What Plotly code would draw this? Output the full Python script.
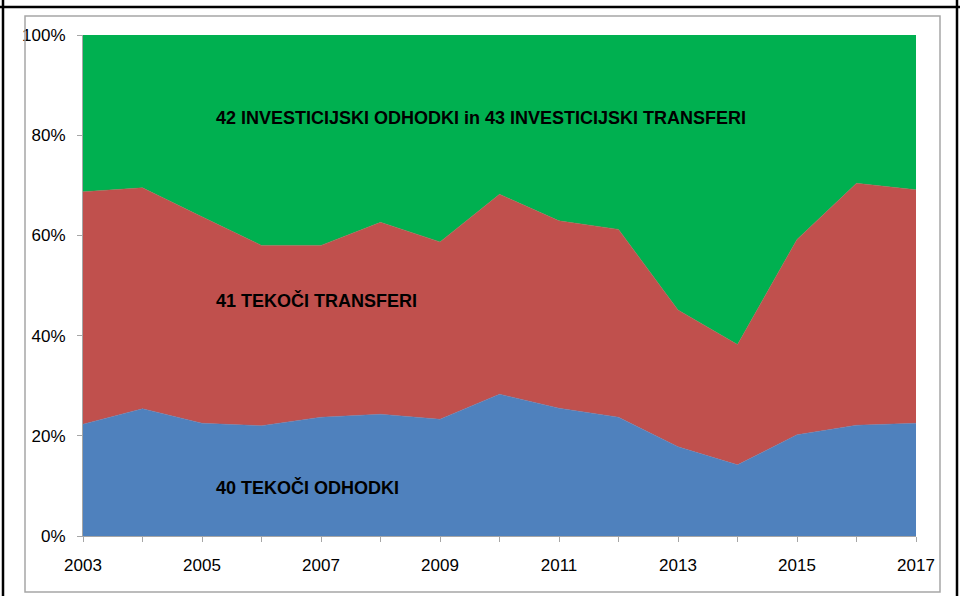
import plotly.graph_objects as go

years = list(range(2003, 2018))
tekoci_odhodki = [22.3, 25.4, 22.5, 22.0, 23.7, 24.3, 23.3, 28.3, 25.5, 23.7, 17.8, 14.2, 20.2, 22.1, 22.5]
tekoci_transferi = [46.4, 44.1, 41.2, 36.0, 34.3, 38.3, 35.4, 39.9, 37.4, 37.5, 27.3, 24.0, 39.0, 48.3, 46.6]
investicije = [round(100 - a - b, 1) for a, b in zip(tekoci_odhodki, tekoci_transferi)]

series_names = ["40 TEKOČI ODHODKI", "41 TEKOČI TRANSFERI",
                "42 INVESTICIJSKI ODHODKI in 43 INVESTICIJSKI TRANSFERI"]
colors = ["#4F81BD", "#C0504D", "#00B050"]
x_ticklabels = [str(y) if (y - 2003) % 2 == 0 else "" for y in years]
y_ticks = [0, 20, 40, 60, 80, 100]
y_ticklabels = ["0%", "20%", "40%", "60%", "80%", "100%"]

FONT = "Liberation Sans, Arial, sans-serif"

fig = go.Figure()
for name, vals, col in zip(series_names, [tekoci_odhodki, tekoci_transferi, investicije], colors):
    fig.add_trace(go.Scatter(x=years, y=vals, name=name, mode="lines",
                             stackgroup="one", line=dict(width=0.5, color=col),
                             fillcolor=col))

W, H = 960, 596
L, R, T, B = 83, 916, 35, 536
pw, ph = R - L, B - T

def px(x):
    return (x - L) / pw

def py(y):
    return (B - y) / ph

label_pos = [(214, 487), (214, 300), (214, 118)]
for name, (lx, ly) in zip(series_names, label_pos):
    fig.add_annotation(x=px(lx), y=py(ly), xref="paper", yref="paper",
                       text="<b>%s</b>" % name, showarrow=False,
                       xanchor="left", yanchor="middle",
                       font=dict(family=FONT, size=18, color="black"))

shapes = [
    dict(type="rect", xref="paper", yref="paper", x0=px(25), x1=px(940), y0=py(592), y1=py(16),
         line=dict(color="#A6A6A6", width=1.5)),
    dict(type="line", xref="paper", yref="paper", x0=px(0), x1=px(960), y0=py(7), y1=py(7),
         line=dict(color="black", width=2.5)),
    dict(type="line", xref="paper", yref="paper", x0=px(3), x1=px(3), y0=py(596), y1=py(0),
         line=dict(color="black", width=2.5)),
    dict(type="line", xref="paper", yref="paper", x0=px(957), x1=px(957), y0=py(596), y1=py(0),
         line=dict(color="black", width=2.5)),
]

fig.update_layout(
    width=W, height=H,
    margin=dict(l=L, r=W - R, t=T, b=H - B),
    paper_bgcolor="white", plot_bgcolor="white",
    showlegend=False,
    shapes=shapes,
    font=dict(family=FONT, size=17, color="black"),
    xaxis=dict(range=[2003, 2017], tickvals=years, ticktext=x_ticklabels,
               ticks="outside", ticklen=5, tickcolor="#A6A6A6", tickwidth=1,
               showline=True, linecolor="#A6A6A6", linewidth=1,
               showgrid=False, zeroline=False, ticklabelstandoff=9,
               tickfont=dict(family=FONT, size=17, color="black")),
    yaxis=dict(range=[0, 100], tickvals=y_ticks, ticktext=y_ticklabels,
               ticks="outside", ticklen=5, tickcolor="#A6A6A6", tickwidth=1,
               showline=True, linecolor="#A6A6A6", linewidth=1,
               showgrid=False, zeroline=False, ticklabelstandoff=8,
               tickfont=dict(family=FONT, size=17, color="black")),
)

fig.write_html("out.html", config={"displayModeBar": False},
               post_script="document.body.style.margin='0px';document.body.style.overflow='hidden';")
